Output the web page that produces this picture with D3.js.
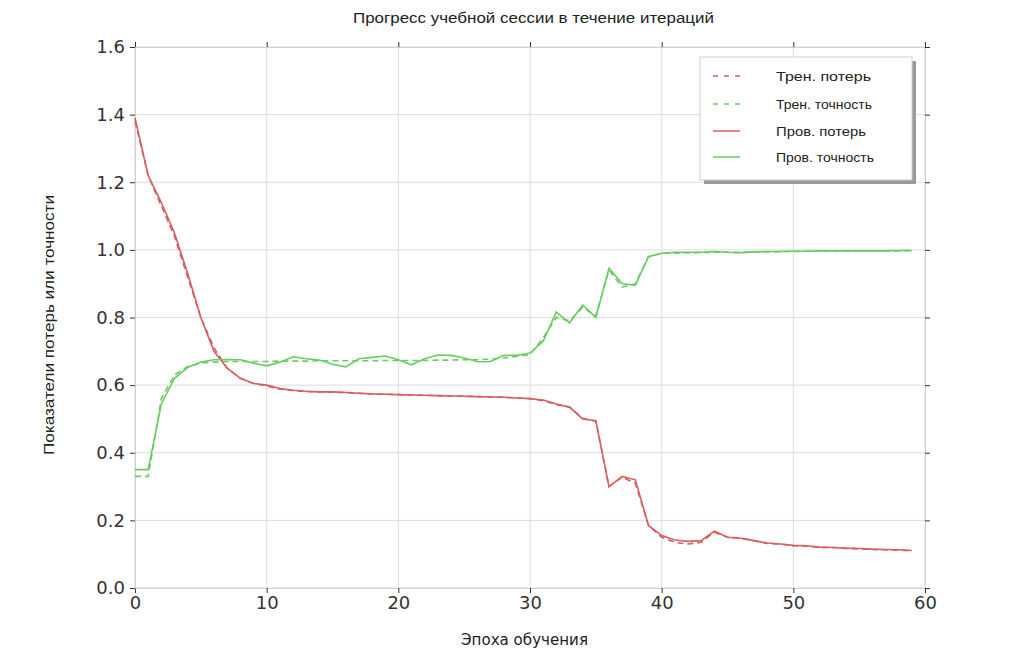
<!DOCTYPE html>
<meta charset="utf-8">
<style>
body {
  margin: 0;
  background: #fff;
  font-family: "Liberation Sans", Arial, sans-serif;
}
.grid line {
  stroke: #dcdcdc;
  stroke-width: 1;
}
.axis path {
  stroke: #d0d0d0;
}
.axis line {
  stroke: #333;
}
.axis text {
  font-family: "DejaVu Sans", sans-serif;
  font-size: 18px;
  fill: #333;
}
.line {
  fill: none;
  stroke-width: 1.6;
}
</style>
<body>
<script src="https://cdn.jsdelivr.net/npm/d3@7"></script>
<script>

var width = 1014,
    height = 650;

var margin = {top: 47, right: 89, bottom: 62, left: 135};

var epochs = d3.range(60);

var trainLoss = [1.38, 1.22, 1.13, 1.04, 0.92, 0.80, 0.71, 0.65, 0.62, 0.605,
                 0.598, 0.588, 0.584, 0.581, 0.580, 0.579, 0.578, 0.576, 0.574, 0.573,
                 0.572, 0.571, 0.570, 0.569, 0.568, 0.567, 0.566, 0.565, 0.564, 0.562,
                 0.560, 0.554, 0.542, 0.535, 0.502, 0.493, 0.300, 0.328, 0.310, 0.185,
                 0.150, 0.135, 0.130, 0.135, 0.165, 0.150, 0.148, 0.140, 0.132, 0.130,
                 0.125, 0.124, 0.120, 0.120, 0.117, 0.116, 0.114, 0.113, 0.112, 0.110];

var trainAcc = [0.33, 0.33, 0.56, 0.63, 0.655, 0.665, 0.668, 0.670, 0.670, 0.670,
                0.670, 0.671, 0.671, 0.671, 0.672, 0.672, 0.672, 0.672, 0.672, 0.673,
                0.673, 0.673, 0.673, 0.674, 0.674, 0.675, 0.675, 0.677, 0.680, 0.685,
                0.690, 0.740, 0.800, 0.790, 0.830, 0.805, 0.940, 0.890, 0.900, 0.980,
                0.990, 0.990, 0.991, 0.992, 0.993, 0.993, 0.992, 0.994, 0.994, 0.995,
                0.995, 0.996, 0.996, 0.996, 0.997, 0.997, 0.997, 0.997, 0.997, 0.998];

var valLoss = [1.39, 1.22, 1.14, 1.05, 0.93, 0.80, 0.70, 0.65, 0.62, 0.605,
               0.600, 0.590, 0.585, 0.582, 0.580, 0.580, 0.578, 0.576, 0.574, 0.573,
               0.572, 0.571, 0.570, 0.569, 0.568, 0.567, 0.566, 0.565, 0.564, 0.562,
               0.560, 0.556, 0.544, 0.535, 0.500, 0.495, 0.300, 0.330, 0.320, 0.185,
               0.155, 0.142, 0.138, 0.140, 0.168, 0.150, 0.147, 0.140, 0.133, 0.130,
               0.126, 0.125, 0.121, 0.120, 0.118, 0.117, 0.115, 0.114, 0.113, 0.111];

var valAcc = [0.35, 0.35, 0.545, 0.62, 0.652, 0.668, 0.675, 0.676, 0.675, 0.665,
              0.657, 0.668, 0.684, 0.678, 0.674, 0.662, 0.654, 0.678, 0.682, 0.686,
              0.675, 0.660, 0.678, 0.689, 0.688, 0.680, 0.669, 0.670, 0.688, 0.688,
              0.695, 0.730, 0.816, 0.784, 0.837, 0.800, 0.946, 0.900, 0.896, 0.980,
              0.990, 0.993, 0.993, 0.993, 0.995, 0.993, 0.992, 0.994, 0.995, 0.995,
              0.996, 0.996, 0.997, 0.997, 0.997, 0.997, 0.997, 0.997, 0.998, 0.998];

var xTicks = [0, 10, 20, 30, 40, 50, 60];
var yTicks = [0.0, 0.2, 0.4, 0.6, 0.8, 1.0, 1.2, 1.4, 1.6];

var legendLabels = ["Трен. потерь", "Трен. точность", "Пров. потерь", "Пров. точность"];
var legendWidths = [95, 96, 90, 98];

var red = "#d65f5f",
    green = "#6acc64";

var series = [
  {values: trainLoss, color: red, dash: "6,4"},
  {values: trainAcc, color: green, dash: "6,4"},
  {values: valLoss, color: red, dash: null},
  {values: valAcc, color: green, dash: null}
];

var w = width - margin.left - margin.right,
    h = height - margin.top - margin.bottom;

var x = d3.scaleLinear().domain([0, 60]).range([0, w]);
var y = d3.scaleLinear().domain([0, 1.6]).range([h, 0]);

var svg = d3.select("body").append("svg")
    .attr("width", width)
    .attr("height", height);

var g = svg.append("g")
    .attr("transform", "translate(" + margin.left + "," + margin.top + ")");

// grid
g.append("g").attr("class", "grid")
  .selectAll("line").data(xTicks).enter().append("line")
    .attr("x1", function(d) { return x(d); })
    .attr("x2", function(d) { return x(d); })
    .attr("y1", 0).attr("y2", h);

g.append("g").attr("class", "grid")
  .selectAll("line").data(yTicks).enter().append("line")
    .attr("x1", 0).attr("x2", w)
    .attr("y1", function(d) { return y(d); })
    .attr("y2", function(d) { return y(d); });

// axes
g.append("g").attr("class", "axis")
    .attr("transform", "translate(0," + h + ")")
    .call(d3.axisBottom(x).tickValues(xTicks).tickSize(5).tickPadding(3).tickFormat(d3.format("d")));

g.append("g").attr("class", "axis")
    .call(d3.axisLeft(y).tickValues(yTicks).tickSize(5).tickPadding(5).tickFormat(d3.format(".1f")));

g.append("g").attr("class", "axis")
    .call(d3.axisTop(x).tickValues(xTicks).tickSize(5).tickFormat(""));

g.append("g").attr("class", "axis")
    .attr("transform", "translate(" + w + ",0)")
    .call(d3.axisRight(y).tickValues(yTicks).tickSize(5).tickFormat(""));

// lines
var line = d3.line()
    .x(function(d, i) { return x(epochs[i]); })
    .y(function(d) { return y(d); });

g.selectAll(".line").data(series).enter().append("path")
    .attr("class", "line")
    .attr("d", function(d) { return line(d.values); })
    .style("stroke", function(d) { return d.color; })
    .style("stroke-dasharray", function(d) { return d.dash; });

// titles
svg.append("text")
    .attr("x", 353).attr("y", 23)
    .attr("textLength", 361)
    .attr("lengthAdjust", "spacingAndGlyphs")
    .style("font-size", "14px")
    .style("fill", "#222")
    .text("Прогресс учебной сессии в течение итераций");

svg.append("text")
    .attr("x", 461).attr("y", 645)
    .attr("textLength", 127)
    .attr("lengthAdjust", "spacingAndGlyphs")
    .style("font-family", "'DejaVu Sans Condensed', 'DejaVu Sans', sans-serif")
    .style("font-size", "15px")
    .style("fill", "#222")
    .text("Эпоха обучения");

svg.append("text")
    .attr("transform", "translate(54,455)rotate(-90)")
    .attr("textLength", 260)
    .attr("lengthAdjust", "spacingAndGlyphs")
    .style("font-size", "15px")
    .style("fill", "#222")
    .text("Показатели потерь или точности");

// legend
var legend = svg.append("g").attr("transform", "translate(700,57)");

legend.append("rect")
    .attr("x", 4).attr("y", 4)
    .attr("width", 212).attr("height", 123)
    .style("fill", "#9a9a9a");

legend.append("rect")
    .attr("width", 212).attr("height", 123)
    .style("fill", "#fff")
    .style("stroke", "#cfcfcf");

var entries = legend.selectAll(".entry").data(series).enter().append("g")
    .attr("transform", function(d, i) { return "translate(0," + [19, 47, 74, 100][i] + ")"; });

entries.append("line")
    .attr("x1", 13).attr("x2", 40)
    .style("stroke", function(d) { return d.color; })
    .style("stroke-width", 1.5)
    .style("stroke-dasharray", function(d) { return d.dash ? "5,6" : null; });

entries.append("text")
    .attr("x", 76).attr("y", 5)
    .attr("textLength", function(d, i) { return legendWidths[i]; })
    .attr("lengthAdjust", "spacingAndGlyphs")
    .style("font-size", "13px")
    .style("fill", "#222")
    .text(function(d, i) { return legendLabels[i]; });

</script>
